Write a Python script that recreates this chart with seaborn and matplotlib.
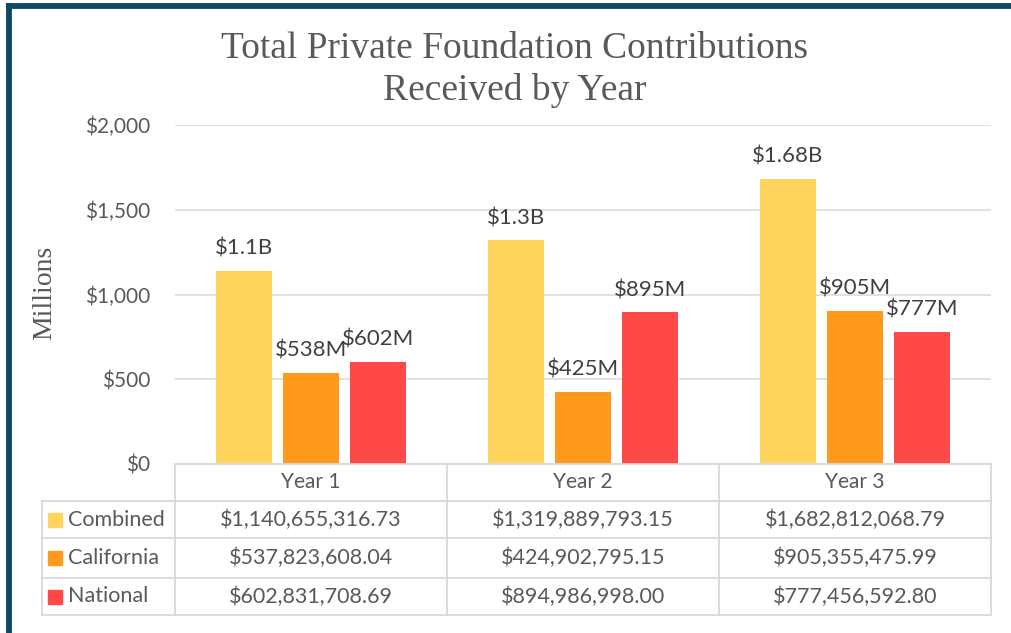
import matplotlib
matplotlib.use("Agg")
import matplotlib.pyplot as plt
from matplotlib.lines import Line2D
from matplotlib.patches import Rectangle
import seaborn as sns
import pandas as pd

years = ["Year 1", "Year 2", "Year 3"]
series = ["Combined", "California", "National"]
combined = [1140655316.73, 1319889793.15, 1682812068.79]
california = [537823608.04, 424902795.15, 905355475.99]
national = [602831708.69, 894986998.00, 777456592.80]
bar_labels = [["$1.1B", "$1.3B", "$1.68B"],
              ["$538M", "$425M", "$905M"],
              ["$602M", "$895M", "$777M"]]
colors = ["#FFD45C", "#FF9A1C", "#FF4949"]
yticks = [0, 500, 1000, 1500, 2000]

values = [combined, california, national]
rows = []
for s, vals in zip(series, values):
    for y, v in zip(years, vals):
        rows.append({"Year": y, "Series": s, "Value": v / 1e6})
df = pd.DataFrame(rows)

sns.set_theme(style="white")
plt.rcParams["font.family"] = ["Lato", "DejaVu Sans"]

W, H = 1011, 633
fig = plt.figure(figsize=(W / 100, H / 100), dpi=100)
fig.patch.set_facecolor("white")

def fx(px):
    return px / W

def fy(py):
    return 1 - py / H

ax_left, ax_right, ax_top, ax_bot = 175, 991, 125, 464
ax = fig.add_axes([fx(ax_left), fy(ax_bot), fx(ax_right - ax_left), (ax_bot - ax_top) / H])

sns.barplot(data=df, x="Year", y="Value", hue="Series", hue_order=series,
            palette=colors, width=0.74, gap=0.16, ax=ax, legend=False,
            saturation=1, edgecolor="none", errorbar=None)

ax.set_ylim(0, 2000)
ax.set_xlim(-0.5, 2.5)
ax.set_yticks(yticks)
ax.set_yticklabels([f"${t:,}" for t in yticks])
ax.tick_params(axis="y", length=0, pad=18, labelsize=15, labelcolor="#595959")
ax.set_xticks([])
ax.set_xlabel("")
ax.set_ylabel("")
for sp in ax.spines.values():
    sp.set_visible(False)
ax.yaxis.grid(True, color="#D9D9D9", linewidth=1.1)
ax.set_axisbelow(True)

# data labels
for si, cont in enumerate(ax.containers):
    for bi, bar in enumerate(cont):
        xc = bar.get_x() + bar.get_width() / 2
        h = bar.get_height()
        ax.annotate(bar_labels[si][bi], (xc, h), xytext=(0, 16), textcoords="offset points",
                    ha="center", va="center", fontsize=16, color="#404040",
                    annotation_clip=False)

# title
fig.text(fx(515), fy(70), "Total Private Foundation Contributions\nReceived by Year",
         ha="center", va="center", fontsize=27, color="#595959",
         family=["Liberation Serif"], linespacing=1.25)

# y axis title
fig.text(fx(45), fy(293), "Millions", rotation=90, ha="center", va="center",
         fontsize=20, color="#595959", family=["Liberation Serif"])

# table
gc = "#D9D9D9"
lw = 1.3
col_x = [42, 175, 447, 719, 991]
row_y = [464, 501, 538, 578, 615]

def hline(x0, x1, y):
    fig.add_artist(Line2D([fx(x0), fx(x1)], [fy(y), fy(y)], color=gc, lw=lw))

def vline(x, y0, y1):
    fig.add_artist(Line2D([fx(x), fx(x)], [fy(y0), fy(y1)], color=gc, lw=lw))

hline(175, 991, 464)
for y in row_y[1:]:
    hline(42, 991, y)
vline(42, 501, 615)
for x in col_x[1:]:
    vline(x, 464, 615)

for ci, yr in enumerate(years):
    xc = (col_x[ci + 1] + col_x[ci + 2]) / 2
    fig.text(fx(xc), fy((row_y[0] + row_y[1]) / 2), yr, ha="center", va="center",
             fontsize=15, color="#595959")

for ri, (s, vals) in enumerate(zip(series, values)):
    yc = (row_y[ri + 1] + row_y[ri + 2]) / 2
    fig.add_artist(Rectangle((fx(48), fy(yc + 7)), fx(14), 14 / H, color=colors[ri],
                             transform=fig.transFigure))
    fig.text(fx(68), fy(yc), s, ha="left", va="center", fontsize=15.5, color="#595959")
    for ci, v in enumerate(vals):
        xc = (col_x[ci + 1] + col_x[ci + 2]) / 2
        fig.text(fx(xc), fy(yc), f"${v:,.2f}", ha="center", va="center",
                 fontsize=15.5, color="#595959")

# border
bc = "#0D4966"
fig.add_artist(Line2D([fx(6), fx(W)], [fy(5.5), fy(5.5)], color=bc, lw=4.2,
                      solid_capstyle="butt"))
fig.add_artist(Line2D([fx(8.5), fx(8.5)], [fy(3), fy(H)], color=bc, lw=4.2,
                      solid_capstyle="butt"))

fig.savefig("out.png", dpi=100, facecolor="white")
